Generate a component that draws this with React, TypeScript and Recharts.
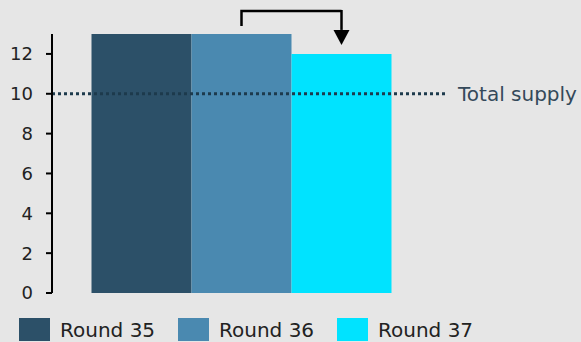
import { BarChart, Bar, XAxis, YAxis, ReferenceLine } from 'recharts'

const categories = ['Supply']
const round35 = [13]
const round36 = [13]
const round37 = [12]
const totalSupply = 10
const yTicks = [0, 2, 4, 6, 8, 10, 12]
const seriesNames = ['Round 35', 'Round 36', 'Round 37']
const seriesColors = ['#2c5068', '#4a89b0', '#00e3ff']

const data = categories.map((name, i) => ({
  name,
  r35: round35[i],
  r36: round36[i],
  r37: round37[i],
}))

const FONT = '"DejaVu Sans", sans-serif'
const ARROW_TOP = 11

// start of the bracket arrow, drawn above the Round 36 bar
function ArrowStart(props: any) {
  const { x, y, width } = props
  const cx = x + width / 2
  return (
    <path d={`M${cx},${y - 8} V${ARROW_TOP} H${cx + width}`} fill="none" stroke="#000" strokeWidth={2.5} />
  )
}

// end of the bracket arrow, pointing down onto the Round 37 bar
function ArrowEnd(props: any) {
  const { x, y, width } = props
  const cx = x + width / 2
  return (
    <g>
      <path d={`M${cx},${ARROW_TOP - 1} V${y - 24}`} fill="none" stroke="#000" strokeWidth={2.5} />
      <path d={`M${cx - 8},${y - 24} L${cx + 8},${y - 24} L${cx},${y - 9} Z`} fill="#000" />
    </g>
  )
}

function SupplyLine(props: any) {
  const { x1, y1, x2 } = props
  return (
    <g>
      <line x1={x1} y1={y1} x2={x2 + 17} y2={y1} stroke="#1d3a4c" strokeWidth={3} strokeDasharray="3 3" />
      <text x={x2 + 27} y={y1} dy="0.36em" fontSize={20} fill="#34495a" fontFamily={FONT}>
        Total supply
      </text>
    </g>
  )
}

export default function App() {
  return (
    <div style={{ position: 'absolute', left: 0, top: 0, width: 581, height: 342, background: '#e6e6e6', fontFamily: FONT }}>
      <BarChart
        width={581}
        height={342}
        data={data}
        margin={{ top: 34, right: 150, left: 0, bottom: 49 }}
        barCategoryGap={39.5}
        barGap={0}
      >
        <XAxis dataKey="name" tick={false} tickLine={false} height={0} axisLine={{ stroke: '#000', strokeWidth: 2 }} />
        <YAxis
          width={52}
          domain={[0, 13]}
          ticks={yTicks}
          interval={0}
          tickSize={6}
          tickMargin={13}
          axisLine={{ stroke: '#000', strokeWidth: 2 }}
          tickLine={{ stroke: '#000', strokeWidth: 2 }}
          tick={{ fontSize: 18, fill: '#222', fontFamily: FONT }}
        />
        <Bar dataKey="r35" fill={seriesColors[0]} isAnimationActive={false} />
        <Bar dataKey="r36" fill={seriesColors[1]} isAnimationActive={false} label={<ArrowStart />} />
        <Bar dataKey="r37" fill={seriesColors[2]} isAnimationActive={false} label={<ArrowEnd />} />
        <ReferenceLine y={totalSupply} shape={<SupplyLine />} ifOverflow="visible" />
      </BarChart>
      {seriesNames.map((n, i) => (
        <div key={n} style={{ position: 'absolute', left: 19 + i * 159, top: 318, display: 'flex', alignItems: 'center' }}>
          <div style={{ width: 31, height: 23, background: seriesColors[i], marginRight: 10 }} />
          <span style={{ fontSize: 20, color: '#222', lineHeight: '23px', position: 'relative', top: 1 }}>{n}</span>
        </div>
      ))}
    </div>
  )
}
